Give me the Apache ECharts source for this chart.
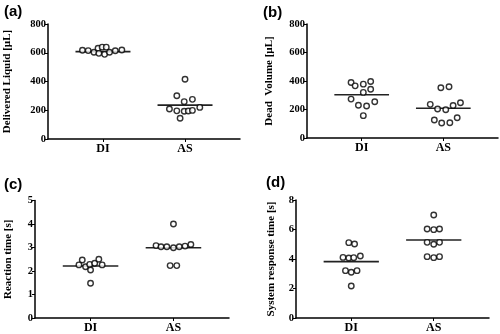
<!DOCTYPE html>
<html>
<head>
<meta charset="utf-8">
<script src="https://cdn.jsdelivr.net/npm/echarts@6/dist/echarts.min.js"></script>
<style>
  html, body { margin: 0; padding: 0; background: #fff; }
  #chart { width: 500px; height: 334px; }
</style>
</head>
<body>
<div id="chart"></div>
<script>
// ---- Data ----
const categories = ['DI', 'AS'];
const panelLetters = ['(a)', '(b)', '(c)', '(d)'];
const axisTitles = ['Delivered Liquid [µL]', 'Dead  Volume [µL]', 'Reaction time [s]', 'System response time [s]'];
const yTicks_a = [0, 200, 400, 600, 800];
const yTicks_b = [0, 200, 400, 600, 800];
const yTicks_c = [0, 1, 2, 3, 4, 5];
const yTicks_d = [0, 2, 4, 6, 8];

// (a) Delivered Liquid
const a_DI = [617, 615, 603, 631, 639, 639, 596, 589, 603, 614, 619];
const a_DI_jitter = [-0.25, -0.18, -0.11, -0.06, -0.01, 0.04, -0.05, 0.02, 0.08, 0.15, 0.23];
const a_AS = [416, 301, 260, 276, 209, 196, 193, 195, 199, 220, 144];
const a_AS_jitter = [0.0, -0.10, -0.01, 0.09, -0.19, -0.10, -0.01, 0.04, 0.09, 0.18, -0.06];
const a_mean = [608, 236];

// (b) Dead Volume
const b_DI = [390, 366, 378, 396, 320, 342, 273, 230, 225, 254, 157];
const b_DI_jitter = [-0.13, -0.08, 0.02, 0.11, 0.02, 0.11, -0.13, -0.04, 0.06, 0.16, 0.02];
const b_AS = [353, 360, 236, 204, 198, 228, 247, 126, 105, 107, 142];
const b_AS_jitter = [-0.03, 0.07, -0.16, -0.07, 0.03, 0.12, 0.21, -0.11, -0.02, 0.08, 0.17];
const b_mean = [304, 209];

// (c) Reaction time
const c_DI = [2.47, 2.26, 2.18, 2.28, 2.33, 2.50, 2.26, 2.04, 1.48];
const c_DI_jitter = [-0.10, -0.14, -0.06, -0.01, 0.05, 0.10, 0.14, 0.00, 0.00];
const c_AS = [4.0, 3.08, 3.03, 3.03, 2.99, 3.03, 3.06, 3.13, 2.23, 2.23];
const c_AS_jitter = [0.0, -0.21, -0.15, -0.08, 0.0, 0.07, 0.14, 0.21, -0.04, 0.04];
const c_mean = [2.21, 2.99];

// (d) System response time
const d_DI = [5.11, 5.02, 4.11, 4.07, 4.09, 4.20, 3.21, 3.10, 3.21, 2.17];
const d_DI_jitter = [-0.03, 0.04, -0.10, -0.03, 0.03, 0.11, -0.07, 0.0, 0.07, 0.0];
const d_AS = [6.98, 6.03, 5.99, 6.03, 5.13, 5.00, 5.13, 4.16, 4.09, 4.16];
const d_AS_jitter = [0.0, -0.08, 0.0, 0.07, -0.08, 0.0, 0.07, -0.08, 0.0, 0.07];
const d_mean = [3.82, 5.29];

// ---- Build chart ----
const panels = [
  { DI: a_DI, DIj: a_DI_jitter, AS: a_AS, ASj: a_AS_jitter, mean: a_mean, ticks: yTicks_a,
    grid: { left: 48, right: 260, top: 24, bottom: 195 }, nameGap: 35, label: [4, 4] },
  { DI: b_DI, DIj: b_DI_jitter, AS: b_AS, ASj: b_AS_jitter, mean: b_mean, ticks: yTicks_b,
    grid: { left: 307, right: 2, top: 24, bottom: 196 }, nameGap: 32, label: [263, 5] },
  { DI: c_DI, DIj: c_DI_jitter, AS: c_AS, ASj: c_AS_jitter, mean: c_mean, ticks: yTicks_c,
    grid: { left: 35, right: 271, top: 200.5, bottom: 16 }, nameGap: 21, label: [4, 177] },
  { DI: d_DI, DIj: d_DI_jitter, AS: d_AS, ASj: d_AS_jitter, mean: d_mean, ticks: yTicks_d,
    grid: { left: 296, right: 11, top: 200, bottom: 16 }, nameGap: 19, label: [266, 175] }
];

const serif = 'Liberation Serif';
const grids = [], xAxes = [], yAxes = [], series = [], texts = [];
const halfLine = 0.335;

panels.forEach((p, i) => {
  grids.push(Object.assign({ containLabel: false }, p.grid));
  xAxes.push({
    type: 'value', gridIndex: i, min: -0.67, max: 1.67,
    splitLine: { show: false },
    axisLine: { onZero: false, lineStyle: { color: '#000', width: 1.5 } },
    axisTick: { show: true, length: 3, lineStyle: { color: '#000', width: 1 }, customValues: [0, 1] },
    axisLabel: {
      customValues: [0, 1], margin: 4,
      formatter: v => categories[Math.round(v)] || '',
      fontFamily: serif, fontWeight: 'bold', fontSize: 12, color: '#000'
    }
  });
  const tk = p.ticks;
  yAxes.push({
    type: 'value', gridIndex: i, min: tk[0], max: tk[tk.length - 1], interval: tk[1] - tk[0],
    name: axisTitles[i], nameLocation: 'middle', nameGap: p.nameGap,
    nameTextStyle: { fontFamily: serif, fontWeight: 'bold', fontSize: 11, color: '#000' },
    splitLine: { show: false },
    axisLine: { show: true, onZero: false, lineStyle: { color: '#000', width: 1.5 } },
    axisTick: { show: true, length: 3, lineStyle: { color: '#000', width: 1 } },
    axisLabel: { margin: 2, fontFamily: serif, fontWeight: 'bold', fontSize: 10.5, color: '#000' }
  });
  const groups = [[p.DI, p.DIj], [p.AS, p.ASj]];
  groups.forEach((g, gi) => {
    series.push({
      type: 'line', xAxisIndex: i, yAxisIndex: i, symbol: 'none', silent: true,
      lineStyle: { color: '#222', width: 1.6 }, z: 1,
      data: [[gi - halfLine, p.mean[gi]], [gi + halfLine, p.mean[gi]]]
    });
    series.push({
      type: 'scatter', xAxisIndex: i, yAxisIndex: i, symbol: 'circle', symbolSize: 5.5, z: 3,
      itemStyle: { color: '#fff', borderColor: '#000', borderWidth: 1.4 },
      data: g[0].map((v, k) => [gi + g[1][k], v])
    });
  });
  texts.push({
    type: 'text', left: p.label[0], top: p.label[1],
    style: { text: panelLetters[i], font: 'bold 15px "Liberation Sans", Arial, sans-serif', fill: '#000' }
  });
});

const chart = echarts.init(document.getElementById('chart'), null, { renderer: 'canvas' });
chart.setOption({
  animation: false,
  backgroundColor: '#fff',
  grid: grids, xAxis: xAxes, yAxis: yAxes, series: series,
  graphic: texts
});
</script>
</body>
</html>
